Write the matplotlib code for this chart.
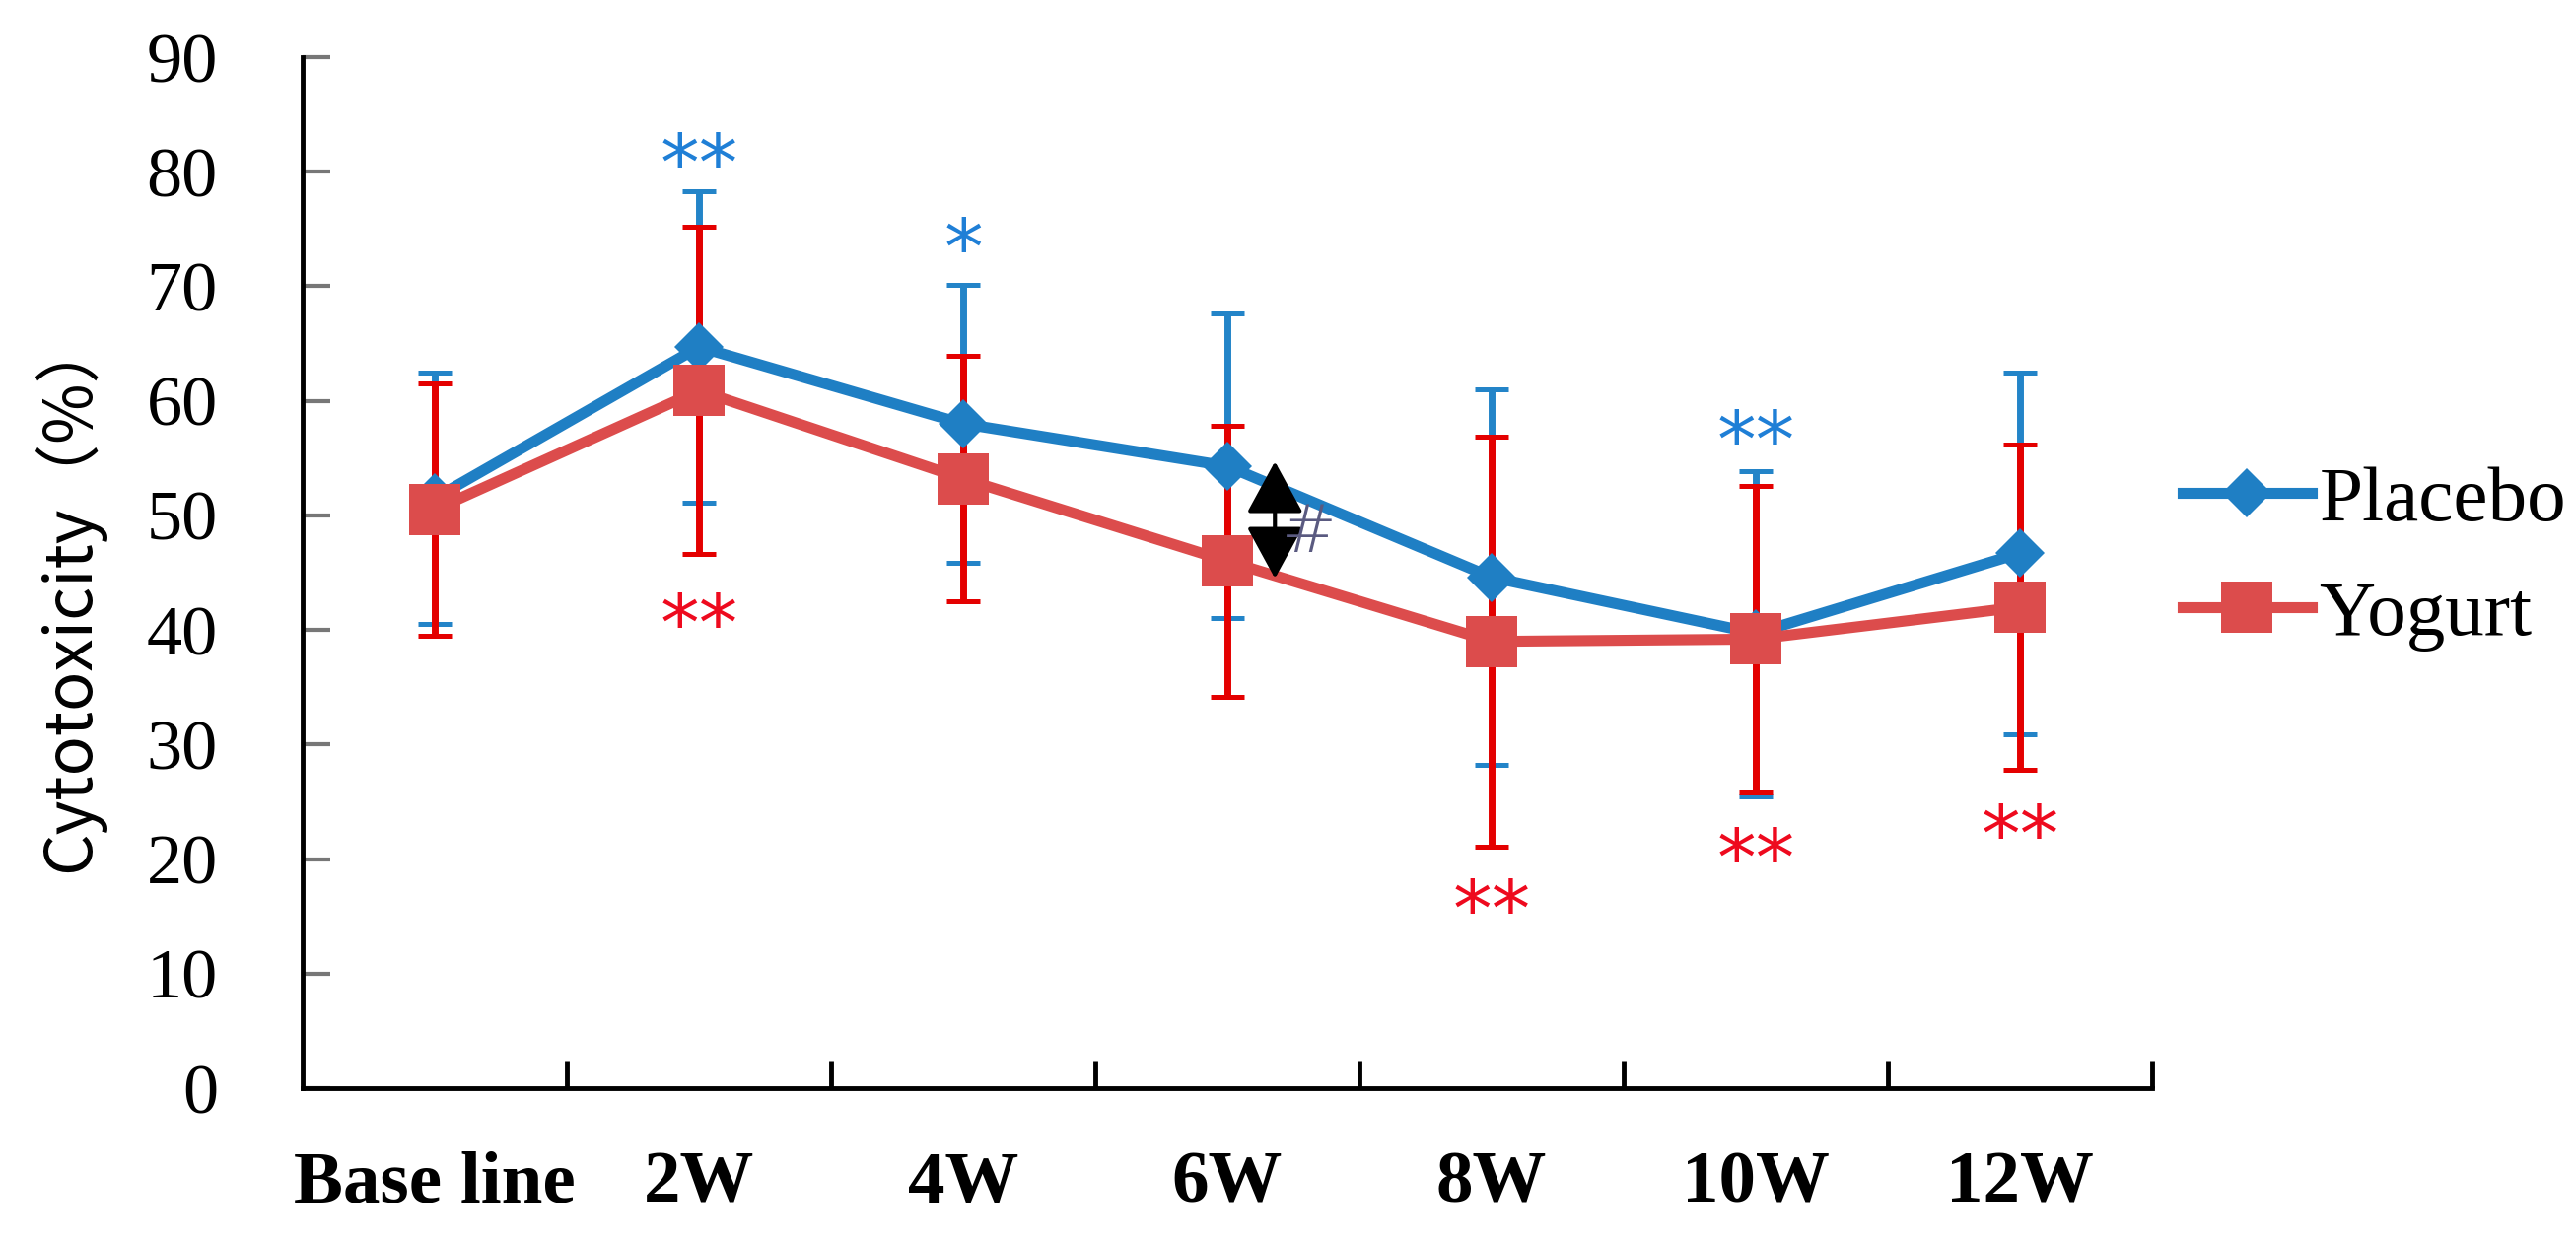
import matplotlib
matplotlib.use("Agg")
import matplotlib.pyplot as plt
import numpy as np

# data
weeks = ["Base line", "2W", "4W", "6W", "8W", "10W", "12W"]
placebo_mean = [51.5, 64.7, 58.0, 54.3, 44.6, 39.7, 46.7]
placebo_sd = [11.0, 13.6, 12.1, 13.3, 16.4, 14.2, 15.8]
yogurt_mean = [50.5, 60.9, 53.2, 46.0, 39.0, 39.2, 42.0]
yogurt_sd = [11.0, 14.3, 10.7, 11.8, 17.9, 13.4, 14.2]

# significance marks: (category index, y value, text)
placebo_marks = [(1, 82.2, "**"), (2, 74.8, "*"), (5, 58.0, "**")]
yogurt_marks = [(1, 42.0, "**"), (4, 17.0, "**"), (5, 21.5, "**"), (6, 23.6, "**")]

BLUE = "#1f7fc4"
BLUE_ERR = "#2384c8"
RED_LINE = "#dc4c4c"
RED_ERR = "#e40000"
STAR_BLUE = "#1f7fd6"
STAR_RED = "#ee0a1e"
SERIF = "Liberation Serif"

fig = plt.figure(figsize=(26.13, 12.55), dpi=100)
ax = fig.add_axes([307 / 2613, 151 / 1255, 1876 / 2613, 1046 / 1255])

x = np.arange(len(weeks)) + 0.5

ax.errorbar(x, placebo_mean, yerr=placebo_sd, fmt="none", ecolor=BLUE_ERR,
            elinewidth=5, capsize=12, capthick=3.6, zorder=2)
ax.errorbar(x, yogurt_mean, yerr=yogurt_sd, fmt="none", ecolor=RED_ERR,
            elinewidth=5, capsize=12, capthick=3.6, zorder=3)
ax.plot(x, placebo_mean, color=BLUE, lw=8, marker="D", ms=25,
        mec=BLUE, mew=0, label="Placebo", zorder=4)
ax.plot(x, yogurt_mean, color=RED_LINE, lw=8, marker="s", ms=38,
        mec=RED_LINE, mew=0, label="Yogurt", zorder=5)

# asterisks: baseline pulled down so the glyph centre sits on the value
for marks, col in ((placebo_marks, STAR_BLUE), (yogurt_marks, STAR_RED)):
    for i, yv, txt in marks:
        ax.annotate(txt, (x[i], yv), xytext=(0, -31), textcoords="offset points",
                    color=col, fontsize=57, ha="center", va="baseline",
                    family="DejaVu Sans", zorder=6)

# double arrow between groups at 6W with '#'
ax.annotate("", xy=(3.68, 54.7), xytext=(3.68, 44.5),
            arrowprops=dict(arrowstyle="<|-|>,head_length=0.55,head_width=0.3",
                            mutation_scale=60, color="black", lw=3,
                            shrinkA=0, shrinkB=0), zorder=7)
ax.text(3.81, 48.4, "#", color="#5a5a80", fontsize=48, ha="center",
        va="center", family="DejaVu Sans", fontweight="light", zorder=7)

ax.set_xlim(0, 7)
ax.set_ylim(0, 90)
ax.set_yticks(np.arange(0, 91, 10))
ax.set_xticks(np.arange(1, 8))
ax.set_xticklabels([])
ax.set_xticks(x, minor=True)
ax.set_xticklabels(weeks, minor=True, fontsize=54, fontweight="bold", family=SERIF)
ax.tick_params(axis="x", which="major", direction="in", length=20, width=3.5,
               color="black")
ax.tick_params(axis="x", which="minor", length=0, pad=46)
ax.tick_params(axis="y", direction="in", length=20, width=3, color="#777777",
               pad=62, labelsize=52)
for lab in ax.get_yticklabels():
    lab.set_family(SERIF)

for s in ("top", "right"):
    ax.spines[s].set_visible(False)
for s in ("left", "bottom"):
    ax.spines[s].set_linewidth(3.5)
    ax.spines[s].set_color("black")

ax.set_ylabel("Cytotoxicity（%）", fontsize=48,
              family=["Noto Sans CJK JP", "DejaVu Sans"])
ax.yaxis.set_label_coords(-0.107, 0.48)

ax.legend(loc="center left", bbox_to_anchor=(1.0165, 0.514), frameon=False,
          prop={"family": SERIF, "size": 57}, handlelength=1.65,
          handletextpad=0.1, labelspacing=0.55, borderpad=0, borderaxespad=0)

fig.savefig("out.png", dpi=100)
